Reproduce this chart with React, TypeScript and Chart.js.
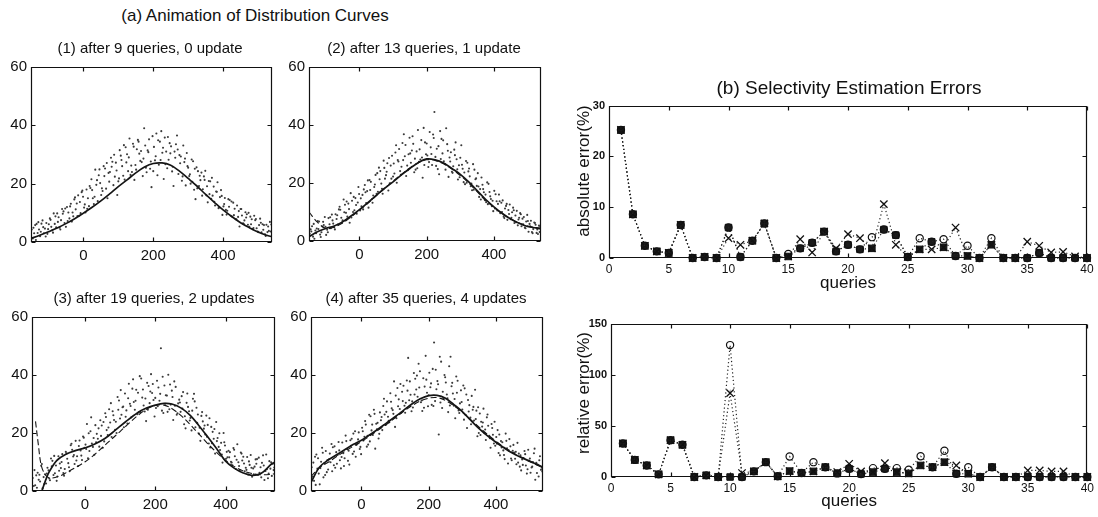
import React, { useEffect, useRef } from 'react';
import { Chart, registerables } from 'chart.js';

Chart.register(...registerables);

const FONT = '"Liberation Sans", Arial, Helvetica, sans-serif';
Chart.defaults.font.family = FONT;
Chart.defaults.color = '#111';

// ---------------- (a) Animation of Distribution Curves ----------------
const MAIN_TITLE_A = '(a) Animation of Distribution Curves';
const PANEL_TITLES = [
  '(1) after 9 queries, 0 update',
  '(2) after 13 queries, 1 update',
  '(3) after 19 queries, 2 updates',
  '(4) after 35 queries, 4 updates',
];
const X_TICKS_A = [0, 200, 400];

const SAMPLE_X_A = [-148, -141, -134, -127, -120, -113, -106, -99, -92, -85, -78, -71, -64, -57, -50, -43, -36, -29, -22, -15, -8, -1, 6, 13, 20, 27, 34, 41, 48, 55, 62, 69, 76, 83, 90, 97, 104, 111, 118, 125, 132, 139, 146, 153, 160, 167, 174, 181, 188, 195, 202, 209, 216, 223, 230, 237, 244, 251, 258, 265, 272, 279, 286, 293, 300, 307, 314, 321, 328, 335, 342, 349, 356, 363, 370, 377, 384, 391, 398, 405, 412, 419, 426, 433, 440, 447, 454, 461, 468, 475, 482, 489, 496, 503, 510, 517, 524, 531, 538, 545];
const SAMPLE_X_B = [-145, -138, -131, -124, -117, -110, -103, -96, -89, -82, -75, -68, -61, -54, -47, -40, -33, -26, -19, -12, -5, 2, 9, 16, 23, 30, 37, 44, 51, 58, 65, 72, 79, 86, 93, 100, 107, 114, 121, 128, 135, 142, 149, 156, 163, 170, 177, 184, 191, 198, 205, 212, 219, 226, 233, 240, 247, 254, 261, 268, 275, 282, 289, 296, 303, 310, 317, 324, 331, 338, 345, 352, 359, 366, 373, 380, 387, 394, 401, 408, 415, 422, 429, 436, 443, 450, 457, 464, 471, 478, 485, 492, 499, 506, 513, 520, 527, 534, 541, 548];
const SAMPLE_X_C = [-150, -143, -136, -129, -122, -115, -108, -101, -94, -87, -80, -73, -66, -59, -52, -45, -38, -31, -24, -17, -10, -3, 4, 11, 18, 25, 32, 39, 46, 53, 60, 67, 74, 81, 88, 95, 102, 109, 116, 123, 130, 137, 144, 151, 158, 165, 172, 179, 186, 193, 200, 207, 214, 221, 228, 235, 242, 249, 256, 263, 270, 277, 284, 291, 298, 305, 312, 319, 326, 333, 340, 347, 354, 361, 368, 375, 382, 389, 396, 403, 410, 417, 424, 431, 438, 445, 452, 459, 466, 473, 480, 487, 494, 501, 508, 515, 522, 529, 536, 543];

const P1_SAMPLES_A = [4.3, 3.0, 6.2, 4.3, 6.3, 3.0, 6.5, 6.1, 5.2, 9.8, 5.0, 8.5, 7.5, 10.5, 5.2, 10.1, 13.1, 8.8, 11.2, 16.0, 9.9, 15.5, 10.1, 15.0, 18.5, 15.0, 24.8, 14.0, 20.2, 17.5, 25.2, 15.0, 24.0, 27.5, 22.4, 16.1, 31.5, 26.0, 21.4, 30.1, 35.5, 24.0, 21.3, 31.8, 30.3, 27.4, 39.0, 23.9, 35.2, 18.8, 32.6, 37.2, 26.5, 38.0, 21.6, 31.0, 28.2, 32.8, 19.2, 33.5, 23.3, 29.3, 33.1, 19.4, 25.5, 20.0, 27.7, 14.7, 24.3, 21.2, 18.1, 24.4, 13.6, 20.8, 15.9, 12.5, 20.5, 15.4, 9.3, 15.1, 10.7, 14.4, 8.7, 11.4, 12.5, 5.3, 9.1, 7.4, 9.5, 5.2, 7.8, 9.0, 4.7, 5.8, 3.3, 5.8, 5.9, 3.8, 6.0, 2.7];
const P1_SAMPLES_B = [1.2, 5.8, 3.1, 2.0, 7.4, 4.6, 2.8, 8.1, 4.0, 6.2, 9.8, 4.9, 11.3, 6.5, 12.0, 8.1, 7.0, 14.6, 13.2, 9.0, 17.1, 11.8, 18.0, 12.3, 21.5, 13.0, 19.6, 22.9, 16.1, 26.0, 18.3, 23.7, 28.9, 19.5, 27.2, 20.8, 29.6, 22.7, 32.5, 24.3, 23.0, 33.7, 26.4, 35.0, 27.8, 22.6, 33.1, 31.4, 25.1, 36.3, 28.0, 22.9, 34.4, 30.6, 35.8, 25.3, 33.9, 24.2, 31.0, 36.5, 29.8, 21.0, 27.4, 30.5, 22.6, 28.3, 17.9, 25.6, 19.2, 23.8, 22.5, 16.0, 20.9, 14.8, 19.0, 17.3, 11.6, 17.8, 12.2, 11.0, 14.7, 9.0, 13.5, 7.8, 8.6, 11.3, 6.4, 10.2, 5.9, 8.7, 4.4, 7.5, 3.6, 8.0, 6.1, 2.6, 3.4, 6.9, 1.9, 4.8];
const P1_SAMPLES_C = [2.2, 4.9, 0.7, 6.8, 3.5, 5.1, 1.9, 4.4, 7.6, 3.2, 8.8, 6.9, 4.3, 9.7, 11.5, 7.2, 12.2, 10.1, 15.3, 8.9, 13.7, 17.6, 12.9, 11.4, 19.2, 17.8, 15.5, 21.2, 24.9, 18.4, 22.6, 27.1, 20.7, 25.8, 29.9, 24.5, 21.8, 28.1, 33.2, 27.3, 29.0, 26.2, 32.7, 24.8, 34.4, 31.2, 28.6, 25.5, 30.8, 27.6, 24.3, 29.4, 34.9, 28.1, 32.3, 26.7, 36.0, 30.4, 25.8, 28.9, 31.7, 27.0, 22.5, 28.6, 26.0, 23.2, 20.6, 25.1, 18.4, 22.7, 15.9, 21.3, 19.1, 16.4, 22.0, 13.8, 17.2, 11.9, 15.8, 13.0, 9.4, 12.1, 13.9, 9.2, 7.8, 10.6, 11.3, 6.2, 8.4, 10.0, 6.1, 4.8, 7.9, 3.4, 6.6, 4.2, 2.1, 5.3, 3.6, 1.5];
const P2_SAMPLES_A = [2.5, 5.1, 0.8, 4.3, 6.7, 3.0, 5.5, 2.1, 7.9, 4.4, 6.0, 9.2, 5.7, 10.8, 7.1, 12.5, 8.4, 6.3, 13.9, 10.6, 9.4, 16.2, 12.0, 17.8, 13.1, 11.5, 20.4, 15.7, 22.8, 17.0, 24.1, 16.3, 21.5, 26.8, 19.9, 29.4, 23.3, 20.1, 31.7, 25.6, 36.8, 22.4, 29.9, 27.0, 33.5, 24.6, 38.3, 28.1, 21.8, 34.0, 29.5, 37.6, 26.2, 44.5, 31.8, 23.0, 35.2, 27.5, 38.9, 22.1, 30.6, 25.8, 34.0, 21.2, 28.7, 24.9, 19.6, 27.0, 22.3, 17.5, 24.6, 19.0, 15.2, 21.9, 16.8, 13.4, 19.7, 14.5, 10.3, 16.1, 12.8, 9.6, 14.0, 11.2, 7.3, 12.6, 9.9, 6.2, 10.4, 8.0, 5.1, 8.3, 6.7, 3.2, 7.0, 4.1, 5.6, 2.4, 4.9, 3.3];
const P2_SAMPLES_B = [4.0, 1.5, 3.6, 6.9, 2.2, 5.0, 8.3, 3.9, 5.8, 9.1, 4.7, 7.6, 10.9, 8.0, 14.3, 9.7, 12.9, 16.5, 10.0, 14.8, 13.3, 10.5, 15.9, 19.3, 17.2, 21.0, 14.4, 18.6, 16.3, 25.3, 19.8, 27.7, 22.7, 17.4, 26.0, 22.2, 30.5, 27.9, 24.1, 33.8, 29.2, 26.0, 35.6, 31.2, 23.7, 30.9, 27.3, 34.8, 39.0, 29.9, 25.5, 32.3, 36.7, 29.0, 24.8, 37.9, 30.2, 26.6, 33.4, 28.8, 23.9, 31.5, 28.2, 26.1, 33.0, 20.3, 27.6, 24.0, 18.9, 26.5, 21.3, 23.4, 17.9, 19.4, 14.1, 20.2, 16.9, 12.0, 17.3, 13.7, 16.0, 13.2, 8.4, 12.1, 10.7, 7.5, 11.5, 8.8, 5.4, 9.6, 7.7, 4.6, 9.0, 5.9, 3.1, 6.4, 2.8, 5.3, 1.0, 4.4];
const P2_SAMPLES_C = [0.5, 3.3, 5.9, 2.7, 4.1, 1.4, 6.6, 4.9, 3.0, 8.2, 7.1, 4.0, 8.9, 11.8, 6.4, 9.9, 13.6, 11.0, 8.1, 15.2, 12.4, 18.6, 14.7, 10.9, 16.8, 20.9, 17.6, 13.2, 19.5, 23.4, 21.3, 18.0, 25.2, 23.9, 28.6, 21.5, 26.7, 33.0, 27.4, 22.8, 27.9, 33.1, 24.4, 30.2, 36.1, 28.4, 25.1, 31.6, 28.8, 26.2, 33.6, 27.2, 30.0, 35.5, 25.9, 32.7, 28.3, 34.7, 24.6, 31.1, 27.4, 23.5, 29.6, 24.7, 22.0, 26.3, 23.6, 20.1, 25.0, 19.8, 17.7, 21.6, 18.8, 14.3, 17.9, 16.0, 12.7, 15.4, 13.9, 11.2, 10.5, 13.7, 10.0, 7.9, 12.8, 9.3, 8.0, 10.6, 6.5, 7.4, 9.2, 5.8, 4.4, 6.9, 5.1, 2.7, 6.2, 4.0, 3.1, 5.5];
const P3_SAMPLES_A = [4.5, 2.0, 6.3, 3.3, 0.9, 5.8, 8.0, 3.7, 10.4, 6.1, 5.0, 9.5, 12.7, 7.6, 11.1, 6.8, 14.2, 9.3, 12.0, 17.4, 10.7, 14.9, 23.1, 13.8, 16.4, 12.5, 19.7, 15.3, 22.6, 17.1, 21.0, 28.2, 18.6, 24.5, 20.0, 31.2, 26.3, 22.0, 27.8, 37.0, 25.4, 30.7, 34.9, 27.1, 38.8, 29.5, 24.1, 36.2, 40.3, 31.4, 28.6, 35.7, 49.2, 26.9, 33.0, 40.1, 29.8, 24.5, 35.9, 30.2, 27.3, 34.1, 21.6, 29.0, 25.2, 31.8, 22.0, 26.4, 17.3, 24.0, 19.5, 22.8, 15.0, 20.4, 12.9, 18.3, 14.1, 9.8, 15.7, 11.6, 13.4, 8.9, 12.0, 16.1, 7.2, 10.5, 6.8, 11.7, 9.0, 4.9, 8.4, 11.0, 6.3, 9.7, 3.8, 7.5, 10.3, 5.2, 8.1, 6.6];
const P3_SAMPLES_B = [1.7, 5.4, 3.9, 8.7, 4.8, 2.6, 7.1, 11.2, 5.5, 8.8, 12.0, 7.9, 6.2, 13.5, 9.6, 15.8, 11.9, 17.3, 8.6, 14.0, 18.8, 16.0, 11.3, 20.6, 15.2, 22.7, 18.0, 24.4, 14.9, 26.8, 19.3, 23.6, 27.5, 21.1, 32.4, 25.0, 28.9, 33.6, 23.3, 30.1, 35.3, 28.0, 26.5, 39.6, 32.2, 27.4, 37.3, 30.3, 33.8, 25.7, 38.0, 31.1, 27.7, 36.4, 32.9, 28.2, 34.6, 37.8, 26.3, 31.5, 32.7, 23.0, 30.4, 27.5, 20.9, 33.5, 28.7, 19.8, 25.9, 21.5, 26.0, 16.4, 22.1, 18.0, 23.8, 15.2, 16.6, 20.0, 11.1, 13.9, 10.1, 14.8, 7.6, 9.9, 13.3, 11.8, 8.0, 5.7, 12.4, 7.8, 10.9, 5.6, 8.2, 12.3, 6.9, 4.4, 7.7, 9.4, 4.1, 10.8];
const P3_SAMPLES_C = [3.0, 7.2, 1.1, 5.6, 9.3, 2.4, 6.0, 4.3, 8.5, 12.1, 3.5, 7.0, 10.0, 5.3, 13.0, 8.2, 16.3, 12.4, 10.5, 15.5, 12.2, 18.4, 14.5, 19.9, 25.4, 18.3, 16.8, 21.6, 19.0, 23.8, 25.5, 21.9, 30.3, 26.1, 23.9, 28.0, 34.8, 29.1, 25.6, 32.0, 29.3, 38.5, 31.1, 33.9, 27.2, 35.0, 31.9, 28.0, 34.3, 36.9, 32.1, 29.2, 33.5, 39.4, 30.1, 27.3, 36.7, 32.4, 29.4, 26.8, 30.5, 28.4, 25.8, 33.6, 24.3, 27.7, 30.9, 23.5, 21.8, 27.2, 22.6, 18.7, 25.1, 16.5, 21.4, 17.2, 19.9, 12.6, 16.8, 13.5, 11.6, 9.8, 14.2, 10.8, 8.6, 12.9, 9.5, 7.3, 10.2, 8.0, 5.8, 9.4, 11.5, 4.7, 8.8, 12.6, 6.0, 9.9, 7.2, 11.9];
const P4_SAMPLES_A = [8.2, 3.5, 12.6, 6.0, 10.1, 4.7, 13.8, 7.4, 9.9, 15.1, 8.0, 12.4, 10.6, 16.7, 11.3, 14.5, 9.1, 18.0, 13.6, 15.9, 20.2, 12.7, 17.4, 22.9, 16.0, 25.8, 19.3, 14.6, 23.5, 27.1, 21.0, 26.4, 30.9, 23.7, 28.5, 37.8, 25.1, 31.6, 27.0, 36.3, 30.4, 45.9, 33.2, 28.8, 38.7, 32.5, 41.3, 27.6, 36.0, 33.9, 40.8, 29.7, 51.2, 35.1, 19.5, 44.6, 31.9, 37.4, 27.2, 46.3, 33.6, 25.1, 38.0, 30.2, 28.1, 35.4, 21.7, 29.6, 32.8, 24.3, 27.7, 20.0, 23.9, 28.4, 17.6, 22.5, 14.9, 19.4, 15.6, 21.0, 12.3, 16.8, 11.0, 14.7, 17.9, 10.6, 13.3, 9.2, 12.9, 7.1, 11.4, 8.8, 14.2, 6.3, 10.0, 3.9, 9.1, 12.0, 6.7, 8.5];
const P4_SAMPLES_B = [4.9, 11.8, 7.7, 2.3, 14.9, 9.6, 6.5, 11.0, 16.2, 8.9, 13.4, 16.9, 7.8, 13.0, 19.1, 10.4, 17.5, 12.8, 20.6, 16.3, 14.5, 21.8, 18.7, 15.3, 26.3, 20.9, 28.0, 23.2, 18.1, 24.4, 29.3, 22.8, 25.6, 33.7, 27.9, 22.1, 35.5, 28.3, 34.2, 29.4, 38.1, 31.3, 27.5, 40.7, 35.0, 43.9, 30.6, 38.9, 46.6, 29.2, 35.8, 42.1, 31.0, 37.9, 46.3, 28.6, 40.0, 33.3, 43.0, 36.1, 29.4, 39.5, 27.8, 34.7, 36.4, 26.2, 31.4, 25.3, 28.0, 34.9, 18.9, 26.7, 22.2, 19.9, 25.4, 19.0, 23.1, 16.4, 18.6, 13.1, 17.2, 14.0, 19.8, 9.5, 15.4, 13.9, 11.1, 16.6, 8.4, 10.9, 13.8, 6.0, 10.5, 8.1, 13.0, 9.7, 5.0, 7.3, 11.6, 2.9];
const P4_SAMPLES_C = [6.4, 9.8, 2.1, 11.3, 7.9, 13.2, 5.5, 10.7, 12.9, 6.8, 15.4, 9.4, 14.0, 11.7, 8.6, 17.2, 13.9, 15.6, 19.8, 11.8, 17.8, 15.2, 20.6, 24.1, 19.0, 17.1, 22.9, 26.6, 21.3, 19.7, 25.5, 31.8, 27.3, 24.2, 30.8, 26.6, 32.9, 29.2, 36.9, 31.0, 27.0, 34.6, 37.8, 30.9, 33.3, 39.8, 35.7, 31.2, 28.7, 38.4, 33.0, 37.1, 29.3, 41.8, 36.8, 30.5, 34.2, 39.2, 32.0, 29.5, 37.3, 31.7, 33.9, 26.9, 30.7, 24.6, 33.3, 27.4, 23.0, 29.0, 24.8, 28.9, 19.3, 23.6, 21.2, 26.4, 18.2, 21.7, 23.9, 16.3, 19.5, 15.0, 12.4, 17.3, 14.0, 11.2, 15.9, 13.5, 9.8, 12.3, 9.0, 12.7, 7.5, 11.2, 8.4, 14.6, 6.2, 10.6, 8.0, 9.9];

const CURVE_X = [-150, -125, -100, -75, -50, -25, 0, 25, 50, 75, 100, 125, 150, 175, 200, 225, 250, 275, 300, 325, 350, 375, 400, 425, 450, 475, 500, 525, 540];
const P1_SOLID = [1.2, 2.3, 3.5, 4.8, 6.3, 8.0, 9.9, 11.9, 14.1, 16.5, 19.0, 21.3, 23.7, 25.7, 26.9, 27.1, 26.3, 24.3, 21.8, 19.2, 16.3, 13.6, 11.0, 8.7, 6.6, 4.9, 3.4, 2.3, 1.8];
const P2_SOLID = [1.5, 3.2, 4.3, 5.2, 6.6, 8.6, 10.8, 13.2, 15.7, 18.2, 20.4, 22.8, 25.0, 27.0, 28.3, 28.0, 26.9, 25.0, 23.0, 20.4, 17.4, 14.4, 11.8, 9.5, 7.6, 6.1, 5.0, 4.5, 4.2];
const P2_DASHED = [10.0, 6.5, 4.3, 4.8, 6.2, 8.3, 10.6, 13.0, 15.6, 18.2, 20.6, 23.0, 25.2, 27.0, 28.0, 27.8, 26.6, 24.8, 22.6, 20.0, 17.0, 14.0, 11.6, 9.4, 7.6, 6.2, 5.2, 4.6, 4.4];
const P3_SOLID_X = [-122, -112, -102, -80, -55, -25, 2, 30, 58, 85, 115, 150, 175, 200, 225, 247, 275, 300, 323, 350, 375, 399, 425, 450, 474, 500, 530, 540];
const P3_SOLID = [0, 3.5, 6.4, 10.5, 12.6, 14.0, 14.9, 16.3, 18.2, 20.8, 23.8, 27.0, 28.6, 29.6, 30.2, 30.0, 28.5, 26.0, 22.7, 18.5, 14.5, 10.4, 7.8, 6.2, 5.4, 6.0, 9.3, 10.0];
const P3_DASHED_X = [-140, -132, -124, -112, -100, -75, -50, -25, 0, 25, 50, 75, 100, 125, 150, 175, 200, 225, 250, 275, 300, 325, 350, 375, 400, 425, 450, 475, 500, 525, 540];
const P3_DASHED = [24, 16, 9, 5.5, 4.5, 5.0, 6.5, 8.2, 10.0, 12.3, 15.0, 17.8, 20.5, 23.3, 26.0, 28.2, 29.5, 29.6, 28.2, 25.8, 22.8, 19.5, 16.2, 13.2, 10.5, 8.4, 6.9, 6.0, 5.6, 5.7, 6.0];
const P4_SOLID = [3.0, 8.2, 10.6, 12.4, 14.2, 16.0, 17.5, 19.4, 21.4, 23.5, 25.6, 27.8, 30.0, 31.8, 32.9, 33.0, 32.0, 29.8, 27.4, 24.4, 21.5, 19.0, 16.8, 14.8, 13.0, 11.6, 10.3, 9.0, 8.2];
const P4_DASHED = [5.0, 8.0, 9.8, 11.8, 13.6, 15.4, 17.0, 19.0, 21.0, 23.0, 25.2, 27.4, 29.4, 31.0, 32.0, 32.2, 31.2, 29.4, 27.2, 24.6, 22.0, 19.5, 17.2, 15.0, 13.2, 11.6, 10.2, 8.8, 8.0];

// ---------------- (b) Selectivity Estimation Errors ----------------
const MAIN_TITLE_B = '(b) Selectivity Estimation Errors';
const ABS_TITLE = 'absolute error(%)';
const REL_TITLE = 'relative error(%)';
const QUERIES = [1, 2, 3, 4, 5, 6, 7, 8, 9, 10, 11, 12, 13, 14, 15, 16, 17, 18, 19, 20, 21, 22, 23, 24, 25, 26, 27, 28, 29, 30, 31, 32, 33, 34, 35, 36, 37, 38, 39, 40];
const ABS_SQUARE = [25.2, 8.6, 2.4, 1.3, 1.0, 6.5, 0, 0.2, 0, 6.0, 0.2, 3.4, 6.8, 0, 0.3, 1.9, 3.0, 5.2, 1.3, 2.6, 1.7, 1.9, 5.6, 4.5, 0.2, 1.7, 3.2, 2.1, 0.4, 0.4, 0, 2.6, 0, 0, 0, 1.0, 0, 0, 0, 0];
const ABS_CIRCLE = [25.2, 8.6, 2.4, 1.3, 1.0, 6.5, 0, 0.2, 0, 6.0, 0.2, 3.4, 6.8, 0, 0.8, 1.9, 3.0, 5.2, 1.3, 2.6, 1.7, 4.1, 5.6, 4.5, 0.2, 3.9, 3.2, 3.7, 0.4, 2.4, 0, 3.9, 0, 0, 0, 1.0, 0, 0, 0, 0];
const ABS_CROSS = [25.2, 8.6, 2.4, 1.3, 1.0, 6.5, 0, 0.2, 0, 3.9, 2.6, 3.4, 6.8, 0, 0.3, 3.7, 1.1, 5.2, 1.9, 4.7, 3.9, 1.9, 10.6, 2.6, 0.2, 1.7, 1.7, 2.1, 6.0, 0.4, 0, 2.6, 0, 0, 3.2, 2.4, 1.1, 1.2, 0.3, 0];
const REL_SQUARE = [32.8, 16.7, 11.3, 2.6, 36, 31.5, 0, 1.6, 0, 0, 0, 5.5, 14.5, 0.7, 5.8, 3.9, 5.5, 9.6, 3.5, 8.1, 3.0, 4.8, 8.1, 4.8, 3.5, 11.3, 9.6, 14.5, 3.2, 3.2, 0, 9.6, 0, 0, 0, 0, 0, 0, 0, 0];
const REL_CIRCLE = [32.8, 16.7, 11.3, 2.6, 36, 31.5, 0, 1.6, 0, 129, 0, 5.5, 14.5, 0.7, 20, 3.9, 14.5, 9.6, 3.5, 8.1, 3.0, 8.7, 8.1, 8.7, 7.1, 20.3, 9.6, 25.7, 3.2, 9.6, 0, 9.6, 0, 0, 0, 0, 0, 0, 0, 0];
const REL_CROSS = [32.8, 16.7, 11.3, 2.6, 36, 31.5, 0, 1.6, 0, 82, 3.9, 5.5, 14.5, 0.7, 5.8, 3.9, 5.5, 9.6, 4.8, 12.9, 5.5, 4.8, 13.5, 4.8, 3.5, 11.3, 9.6, 14.5, 11.3, 3.2, 0, 9.6, 0, 0, 6.4, 6.4, 5.5, 5.5, 0, 0];

// ---------------- helpers ----------------
const framePlugin = {
  id: 'frame',
  afterDatasetsDraw(chart: any) {
    const { ctx, chartArea: a, scales } = chart;
    const xs = scales.x;
    const ys = scales.y;
    const l = Math.round(a.left) + 0.5;
    const r = Math.round(a.right) - 0.5;
    const t = Math.round(a.top) + 0.5;
    const b = Math.round(a.bottom) - 0.5;
    const tl = 4;
    ctx.save();
    ctx.strokeStyle = '#111';
    ctx.lineWidth = 1.2;
    ctx.beginPath();
    ctx.moveTo(l, t);
    ctx.lineTo(r, t);
    ctx.lineTo(r, b);
    ctx.lineTo(l, b);
    ctx.closePath();
    xs.ticks.forEach((tk: any) => {
      const px = Math.round(xs.getPixelForValue(tk.value)) + 0.5;
      ctx.moveTo(px, b);
      ctx.lineTo(px, b - tl);
      ctx.moveTo(px, t);
      ctx.lineTo(px, t + tl);
    });
    ys.ticks.forEach((tk: any) => {
      const py = Math.round(ys.getPixelForValue(tk.value)) + 0.5;
      ctx.moveTo(l, py);
      ctx.lineTo(l + tl, py);
      ctx.moveTo(r, py);
      ctx.lineTo(r - tl, py);
    });
    ctx.stroke();
    ctx.restore();
  },
};

const pts = (xs: number[], ys: number[]) => xs.map((x, i) => ({ x, y: ys[i] }));

type Curve = { x: number[]; y: number[]; dashed: boolean };
type Samples = { x: number[]; y: number[] };

function distConfig(samples: Samples[], curves: Curve[], axisW: number, padRight: number): any {
  const datasets: any[] = [];
  curves.forEach((c) => {
    datasets.push({
      type: 'line',
      data: pts(c.x, c.y),
      borderColor: '#151515',
      borderWidth: c.dashed ? 1.1 : 1.7,
      borderDash: c.dashed ? [6, 3] : [],
      pointRadius: 0,
      tension: 0.35,
      fill: false,
    });
  });
  samples.forEach((s) => {
    datasets.push({
      type: 'scatter',
      data: pts(s.x, s.y),
      pointRadius: 1.05,
      pointBackgroundColor: '#3a3a3a',
      pointBorderWidth: 0,
      showLine: false,
    });
  });
  return {
    type: 'scatter',
    data: { datasets },
    plugins: [framePlugin],
    options: {
      animation: false,
      responsive: false,
      devicePixelRatio: 1,
      layout: { padding: { left: 0, top: 8, right: padRight, bottom: 0 } },
      plugins: { legend: { display: false }, tooltip: { enabled: false } },
      scales: {
        x: {
          type: 'linear',
          min: -150,
          max: 540,
          afterBuildTicks: (s: any) => {
            s.ticks = X_TICKS_A.map((v) => ({ value: v }));
          },
          afterFit: (s: any) => {
            s.height = 22;
          },
          grid: { display: false, drawTicks: false },
          border: { display: false },
          ticks: { padding: 5, font: { size: 15 }, color: '#111', autoSkip: false, maxRotation: 0 },
        },
        y: {
          min: 0,
          max: 60,
          afterFit: (s: any) => {
            s.width = axisW;
          },
          grid: { display: false, drawTicks: false },
          border: { display: false },
          ticks: { stepSize: 20, padding: 4, font: { size: 15 }, color: '#111' },
        },
      },
    },
  };
}

function errConfig(sq: number[], ci: number[], cr: number[], yMax: number, yStep: number, axisW: number, axisH: number, padRight: number): any {
  const common = {
    type: 'line',
    borderColor: '#222',
    borderWidth: 1.2,
    borderDash: [1.2, 2.6],
    tension: 0,
    fill: false,
  };
  return {
    type: 'line',
    data: {
      datasets: [
        {
          ...common,
          data: pts(QUERIES, ci),
          pointStyle: 'circle',
          pointRadius: 3.6,
          pointBorderWidth: 1.2,
          pointBorderColor: '#111',
          pointBackgroundColor: 'rgba(0,0,0,0)',
        },
        {
          ...common,
          data: pts(QUERIES, cr),
          pointStyle: 'crossRot',
          pointRadius: 5.2,
          pointBorderWidth: 1.3,
          pointBorderColor: '#111',
          pointBackgroundColor: '#111',
        },
        {
          ...common,
          data: pts(QUERIES, sq),
          pointStyle: 'rect',
          pointRadius: 4.6,
          pointBorderWidth: 1,
          pointBorderColor: '#111',
          pointBackgroundColor: '#1a1a1a',
        },
      ],
    },
    plugins: [framePlugin],
    options: {
      animation: false,
      responsive: false,
      devicePixelRatio: 1,
      clip: false,
      layout: { padding: { left: 0, top: 8, right: padRight, bottom: 0 } },
      plugins: { legend: { display: false }, tooltip: { enabled: false } },
      scales: {
        x: {
          type: 'linear',
          min: 0,
          max: 40,
          afterFit: (s: any) => {
            s.height = axisH;
          },
          grid: { display: false, drawTicks: false },
          border: { display: false },
          ticks: { stepSize: 5, padding: 4, font: { size: 12 }, color: '#111', autoSkip: false, maxRotation: 0 },
          title: { display: true, text: 'queries', font: { size: 17 }, color: '#111', padding: { top: 0, bottom: 1 } },
        },
        y: {
          min: 0,
          max: yMax,
          afterFit: (s: any) => {
            s.width = axisW;
          },
          grid: { display: false, drawTicks: false },
          border: { display: false },
          ticks: { stepSize: yStep, padding: 4, font: { size: 11, weight: 'bold' }, color: '#111' },
        },
      },
    },
  };
}

function ChartBox({ x, y, w, h, config }: { x: number; y: number; w: number; h: number; config: any }) {
  const ref = useRef<HTMLCanvasElement>(null);
  useEffect(() => {
    const chart = new Chart(ref.current as HTMLCanvasElement, config);
    return () => chart.destroy();
  }, []);
  return (
    <canvas
      ref={ref}
      width={w}
      height={h}
      style={{ position: 'absolute', left: x, top: y, width: w, height: h }}
    />
  );
}

function Label({ text, cx, cy, size, rotate }: { text: string; cx: number; cy: number; size: number; rotate?: boolean }) {
  return (
    <div
      style={{
        position: 'absolute',
        left: cx,
        top: cy,
        transform: rotate ? 'translate(-50%, -50%) rotate(-90deg)' : 'translate(-50%, -50%)',
        whiteSpace: 'nowrap',
        fontFamily: FONT,
        fontSize: size,
        lineHeight: 1,
        color: '#111',
      }}
    >
      {text}
    </div>
  );
}

export default function App() {
  const p1 = distConfig(
    [{ x: SAMPLE_X_A, y: P1_SAMPLES_A }, { x: SAMPLE_X_B, y: P1_SAMPLES_B }, { x: SAMPLE_X_C, y: P1_SAMPLES_C }],
    [{ x: CURVE_X, y: P1_SOLID, dashed: false }],
    31,
    10
  );
  const p2 = distConfig(
    [{ x: SAMPLE_X_A, y: P2_SAMPLES_A }, { x: SAMPLE_X_B, y: P2_SAMPLES_B }, { x: SAMPLE_X_C, y: P2_SAMPLES_C }],
    [{ x: CURVE_X, y: P2_SOLID, dashed: false }, { x: CURVE_X, y: P2_DASHED, dashed: true }],
    31,
    10
  );
  const p3 = distConfig(
    [{ x: SAMPLE_X_A, y: P3_SAMPLES_A }, { x: SAMPLE_X_B, y: P3_SAMPLES_B }, { x: SAMPLE_X_C, y: P3_SAMPLES_C }],
    [{ x: P3_SOLID_X, y: P3_SOLID, dashed: false }, { x: P3_DASHED_X, y: P3_DASHED, dashed: true }],
    31,
    10
  );
  const p4 = distConfig(
    [{ x: SAMPLE_X_A, y: P4_SAMPLES_A }, { x: SAMPLE_X_B, y: P4_SAMPLES_B }, { x: SAMPLE_X_C, y: P4_SAMPLES_C }],
    [{ x: CURVE_X, y: P4_SOLID, dashed: false }, { x: CURVE_X, y: P4_DASHED, dashed: true }],
    31,
    10
  );
  const eAbs = errConfig(ABS_SQUARE, ABS_CIRCLE, ABS_CROSS, 30, 10, 49, 37, 11);
  const eRel = errConfig(REL_SQUARE, REL_CIRCLE, REL_CROSS, 150, 50, 51, 36, 10);

  return (
    <div style={{ position: 'fixed', left: 0, top: 0, width: 1098, height: 517, background: '#fff', overflow: 'hidden' }}>
      <ChartBox x={0} y={54} w={282} h={210} config={p1} />
      <ChartBox x={278} y={54} w={273} h={209} config={p2} />
      <ChartBox x={1} y={304} w={284} h={209} config={p3} />
      <ChartBox x={280} y={304} w={273} h={209} config={p4} />
      <ChartBox x={560} y={95} w={538} h={200} config={eAbs} />
      <ChartBox x={560} y={313} w={538} h={200} config={eRel} />
      <Label text={MAIN_TITLE_A} cx={255} cy={15} size={17} />
      <Label text={PANEL_TITLES[0]} cx={150} cy={47} size={15} />
      <Label text={PANEL_TITLES[1]} cx={424} cy={47} size={15} />
      <Label text={PANEL_TITLES[2]} cx={154} cy={297} size={15} />
      <Label text={PANEL_TITLES[3]} cx={426} cy={297} size={15} />
      <Label text={MAIN_TITLE_B} cx={849} cy={87} size={19} />
      <Label text={ABS_TITLE} cx={583} cy={171} size={17} rotate />
      <Label text={REL_TITLE} cx={583} cy={393} size={17} rotate />
    </div>
  );
}
